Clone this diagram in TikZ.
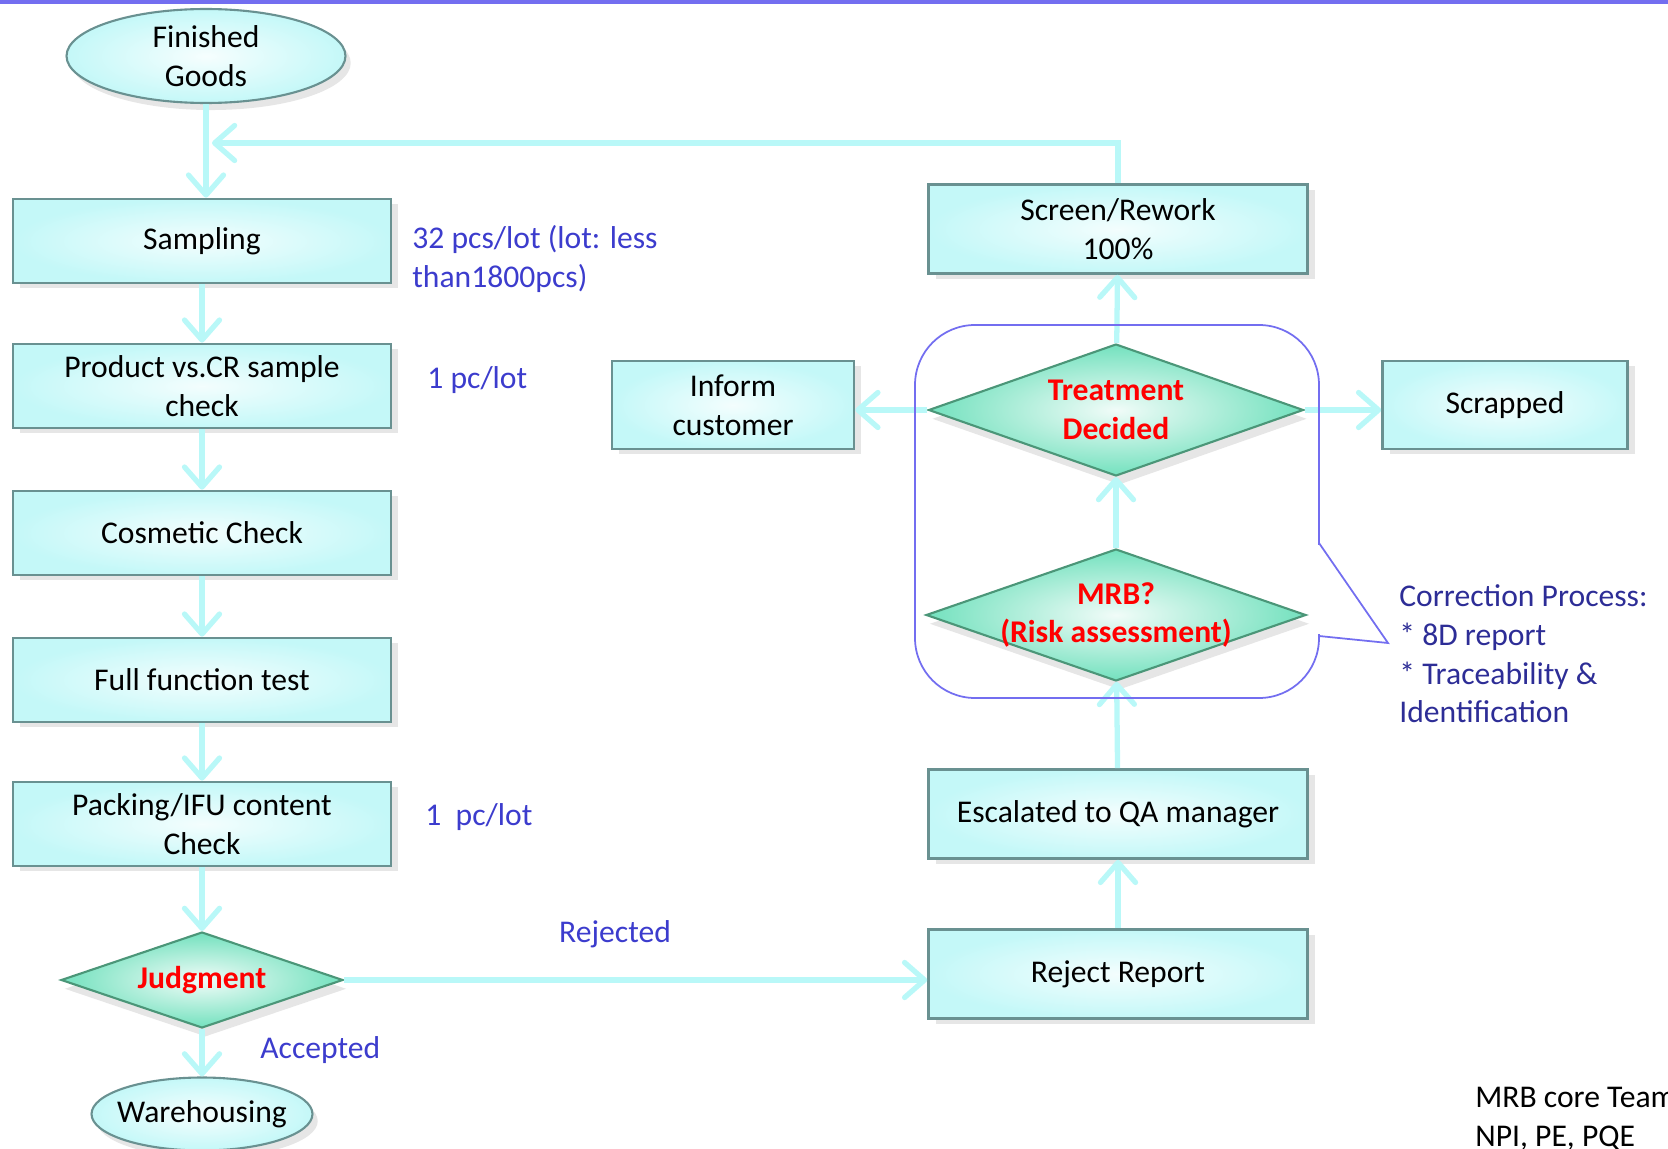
\documentclass[tikz,border=0pt]{standalone}
\usepackage{fontspec}
\setmainfont{Carlito}
\usetikzlibrary{shapes.geometric,arrows.meta,shadows}
\definecolor{boxcyan}{RGB}{196,248,248}
\definecolor{boxedge}{RGB}{105,145,145}
\definecolor{arrowcyan}{RGB}{185,248,248}
\definecolor{diagreen}{RGB}{115,225,190}
\definecolor{diaedge}{RGB}{75,150,120}
\definecolor{noteblue}{RGB}{60,60,205}
\definecolor{corrblue}{RGB}{45,45,150}
\definecolor{lilac}{RGB}{115,110,240}
\tikzset{
  proc/.style={rectangle, draw=boxedge, line width=1.5pt, inner color=boxcyan!20, outer color=boxcyan,
    align=center, drop shadow={shadow xshift=4pt, shadow yshift=-3pt, opacity=0.2}},
  term/.style={ellipse, draw=boxedge, line width=1.2pt, inner color=boxcyan!15, outer color=boxcyan,
    align=center, inner sep=0pt, drop shadow={shadow xshift=3pt, shadow yshift=-4pt, opacity=0.2}},
  decision/.style={diamond, draw=diaedge, line width=1.2pt, inner color=diagreen!10, outer color=diagreen,
    inner sep=0pt, drop shadow={shadow xshift=2pt, shadow yshift=-5pt, opacity=0.2}},
  dectext/.style={text=red, font=\fontsize{18}{22}\selectfont\bfseries, align=center},
  note/.style={text=noteblue, inner sep=0pt, align=left, anchor=west},
  flow/.style={draw=arrowcyan, line width=3pt, -{Straight Barb[length=4mm,width=7mm,round]}}
}
\begin{document}
\begin{tikzpicture}[x=0.02cm, y=-0.02cm, font=\fontsize{18}{22}\selectfont]
\useasboundingbox (0,0) rectangle (1668,1149);
\fill[lilac] (0,0) rectangle (1668,4);
% left column
\node (fg) at (206,56) [term, minimum width=5.58cm, minimum height=1.88cm] {Finished\\Goods};
\node (samp) at (202,241) [proc, minimum width=7.56cm, minimum height=1.68cm] {Sampling};
\node (prod) at (202,386) [proc, minimum width=7.56cm, minimum height=1.68cm] {Product vs.CR sample\\check};
\node (cosm) at (202,533) [proc, minimum width=7.56cm, minimum height=1.68cm] {Cosmetic Check};
\node (func) at (202,680) [proc, minimum width=7.56cm, minimum height=1.68cm] {Full function test};
\node (pack) at (202,824) [proc, minimum width=7.56cm, minimum height=1.68cm] {Packing/IFU content\\Check};
\node (judg) at (202,980) [decision, minimum width=5.64cm, minimum height=1.92cm] {};
\node (judgtext) at (judg) [dectext] {Judgment};
\node (ware) at (202,1114) [term, inner xsep=-5pt, minimum width=4.42cm, minimum height=1.46cm] {Warehousing};
% right column
\node (screen) at (1118,229) [proc, minimum width=7.58cm, minimum height=1.78cm] {Screen/Rework\\100\%};
\node (treat) at (1116,410) [decision, minimum width=7.5cm, minimum height=2.64cm] {};
\node (treattext) at (treat) [dectext] {Treatment\\Decided};
\node (mrb) at (1116,615) [decision, minimum width=7.6cm, minimum height=2.64cm] {};
\node (mrbtext) at (mrb) [dectext] {MRB?\\(Risk assessment)};
\node (esc) at (1118,814) [proc, minimum width=7.58cm, minimum height=1.78cm] {Escalated to QA manager};
\node (rej) at (1118,974) [proc, minimum width=7.58cm, minimum height=1.78cm] {Reject Report};
\node (inform) at (733,405) [proc, minimum width=4.84cm, minimum height=1.76cm] {Inform\\customer};
\node (scrap) at (1505,405) [proc, minimum width=4.9cm, minimum height=1.76cm] {Scrapped};
% notes
\node (lotnote) at (412,259) [note] {32 pcs/lot (lot: less\\than1800pcs)};
\node (crnote) at (427,380) [note] {1 pc/lot};
\node (ifunote) at (425,817) [note] {1\ \ pc/lot};
\node (rejnote) at (615,934) [text=noteblue] {Rejected};
\node (accnote) at (260,1050) [note] {Accepted};
\node (corrnote) at (1399,654) [note, text=corrblue] {Correction Process:\\* 8D report\\* Traceability \&\\Identification};
\node (teamnote) at (1475,1119) [note, text=black] {MRB core Team\\NPI, PE, PQE};
% arrows
\coordinate (loopin) at (212,143);
\draw[flow] (fg.south) -- (fg.south |- samp.north);
\draw[flow] (screen.north) |- (loopin);
\draw[flow] (samp) -- (prod);
\draw[flow] (prod) -- (cosm);
\draw[flow] (cosm) -- (func);
\draw[flow] (func) -- (pack);
\draw[flow] (pack) -- (judg);
\draw[flow] (judg) -- (ware);
\draw[flow] (judg.east) -- (judg.east -| rej.west);
\draw[flow] (rej) -- (esc);
\draw[flow] (esc) -- (mrb);
\draw[flow] (mrb) -- (treat);
\draw[flow] (treat) -- (screen);
\draw[flow] (treat.west) -- (treat.west -| inform.east);
\draw[flow] (treat.east) -- (treat.east -| scrap.west);
% callout
\draw[lilac, line width=1pt, rounded corners=1.2cm] (915,325) rectangle (1319,698);
\fill[white] (1316,545) rectangle (1323,634);
\draw[lilac, line width=1pt] (1319,543) -- (1388,643) -- (1319,636);
\end{tikzpicture}
\end{document}
